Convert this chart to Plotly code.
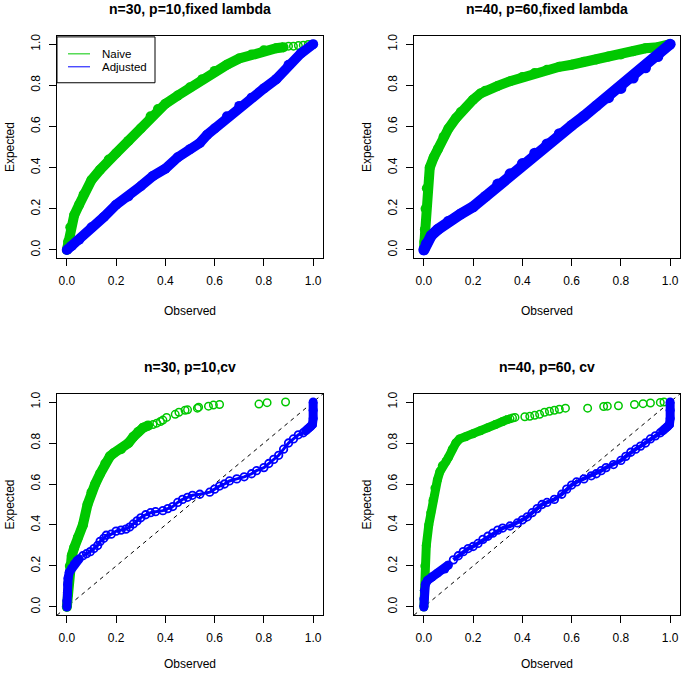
import plotly.graph_objects as go

W, H = 682, 673
GREEN = "#00C800"
BLUE = "#0000FF"

titles = ["n=30, p=10,fixed lambda", "n=40, p=60,fixed lambda",
          "n=30, p=10,cv", "n=40, p=60, cv"]
tick_vals = [0.0, 0.2, 0.4, 0.6, 0.8, 1.0]
tick_text = ["0.0", "0.2", "0.4", "0.6", "0.8", "1.0"]
legend_labels = ["Naive", "Adjusted"]

# ---- panel 1: n=30, p=10, fixed lambda ----
p1_naive_x = [0, 0.005, 0.014, 0.03, 0.05, 0.068, 0.1, 0.135, 0.17, 0.2, 0.25, 0.3, 0.34, 0.37, 0.4, 0.45,
              0.5, 0.55, 0.6, 0.65, 0.7, 0.75, 0.8, 0.85, 0.88]
p1_naive_y = [0, 0.04, 0.11, 0.17, 0.22, 0.27, 0.34, 0.39, 0.44, 0.47, 0.53, 0.59, 0.65, 0.685, 0.71, 0.75,
              0.79, 0.83, 0.87, 0.9, 0.93, 0.95, 0.97, 0.98, 0.985]
p1_naive_sx = [0.9, 0.92, 0.94, 0.96, 0.98, 1.0]
p1_naive_sy = [0.99, 0.99, 0.993, 0.995, 0.998, 1.0]
p1_adj_x = [0, 0.02, 0.05, 0.1, 0.15, 0.2, 0.25, 0.3, 0.35, 0.4, 0.45, 0.5, 0.54, 0.57, 0.6, 0.65,
            0.7, 0.75, 0.8, 0.85, 0.9, 0.95, 1.0]
p1_adj_y = [0, 0.02, 0.05, 0.11, 0.16, 0.22, 0.26, 0.31, 0.36, 0.395, 0.45, 0.49, 0.52, 0.56, 0.59, 0.65,
            0.7, 0.74, 0.785, 0.83, 0.9, 0.955, 1.0]

# ---- panel 2: n=40, p=60, fixed lambda ----
p2_naive_x = [0, 0.002, 0.004, 0.007, 0.012, 0.024, 0.04, 0.057, 0.08, 0.1, 0.13, 0.15, 0.2, 0.23, 0.25,
              0.3, 0.35, 0.4, 0.45, 0.5, 0.55, 0.6, 0.65, 0.7, 0.75, 0.8, 0.85, 0.9, 0.95, 1.0]
p2_naive_y = [0, 0.04, 0.1, 0.2, 0.3, 0.4, 0.45, 0.49, 0.55, 0.59, 0.64, 0.67, 0.73, 0.76, 0.774,
              0.797, 0.82, 0.84, 0.86, 0.875, 0.89, 0.9, 0.915, 0.925, 0.94, 0.95, 0.965, 0.98, 0.985, 1.0]
p2_adj_x = [0, 0.01, 0.03, 0.057, 0.1, 0.15, 0.2, 0.25, 0.3, 0.35, 0.4, 0.45, 0.5, 0.55, 0.6, 0.65,
            0.7, 0.75, 0.8, 0.85, 0.9, 0.95, 1.0]
p2_adj_y = [0, 0.03, 0.07, 0.1, 0.14, 0.175, 0.21, 0.26, 0.32, 0.37, 0.42, 0.47, 0.515, 0.565, 0.605, 0.65,
            0.7, 0.74, 0.785, 0.835, 0.885, 0.94, 1.0]

# ---- panel 3: n=30, p=10, cv ----
p3_naive_x = [0, 0.004, 0.007, 0.012, 0.02, 0.03, 0.045, 0.065, 0.084, 0.1, 0.115, 0.135, 0.156, 0.175,
              0.19, 0.22, 0.25, 0.27, 0.29, 0.31, 0.33]
p3_naive_y = [0, 0.06, 0.12, 0.2, 0.25, 0.29, 0.34, 0.4, 0.5, 0.56, 0.6, 0.65, 0.7, 0.735,
              0.75, 0.77, 0.8, 0.83, 0.855, 0.875, 0.885]
p3_naive_sx = [0.35, 0.365, 0.38, 0.39, 0.405, 0.44, 0.455, 0.48, 0.49, 0.53, 0.535, 0.575, 0.595, 0.62,
               0.78, 0.813, 0.888]
p3_naive_sy = [0.89, 0.897, 0.905, 0.912, 0.925, 0.94, 0.95, 0.96, 0.962, 0.97, 0.975, 0.98, 0.985, 0.988,
               0.99, 0.997, 1.0]
p3_adj_start_x = [0, 0, 0.002, 0.003, 0.005, 0.01, 0.02, 0.03, 0.04, 0.05]
p3_adj_start_y = [0, 0.03, 0.07, 0.11, 0.14, 0.17, 0.19, 0.21, 0.225, 0.235]
p3_adj_mid_x = [0.065, 0.08, 0.095, 0.11, 0.125, 0.135, 0.15, 0.16, 0.18, 0.2, 0.22, 0.24, 0.255, 0.27,
                0.285, 0.3, 0.32, 0.34, 0.36, 0.39, 0.41, 0.43, 0.45, 0.47, 0.49, 0.51, 0.54, 0.58, 0.6,
                0.62, 0.64, 0.66, 0.69, 0.72, 0.75, 0.77, 0.8, 0.82, 0.84, 0.86, 0.88, 0.9, 0.92, 0.94, 0.96]
p3_adj_mid_y = [0.25, 0.26, 0.27, 0.285, 0.3, 0.32, 0.335, 0.35, 0.355, 0.37, 0.375, 0.38, 0.39, 0.405,
                0.42, 0.435, 0.45, 0.46, 0.465, 0.47, 0.48, 0.49, 0.51, 0.525, 0.535, 0.545, 0.55, 0.56, 0.575,
                0.59, 0.6, 0.615, 0.625, 0.635, 0.65, 0.665, 0.68, 0.7, 0.72, 0.74, 0.77, 0.8, 0.82, 0.84, 0.85]
p3_adj_end_x = [0.97, 0.98, 0.99, 0.997, 1.0, 1.0, 1.0]
p3_adj_end_y = [0.86, 0.87, 0.88, 0.89, 0.92, 0.96, 1.0]

# ---- panel 4: n=40, p=60, cv ----
p4_naive_x = [0, 0.002, 0.004, 0.01, 0.02, 0.028, 0.037, 0.045, 0.055, 0.065, 0.075, 0.09, 0.1, 0.115,
              0.13, 0.145, 0.17, 0.2, 0.23, 0.26, 0.29, 0.32, 0.34]
p4_naive_y = [0, 0.08, 0.2, 0.3, 0.4, 0.46, 0.52, 0.58, 0.62, 0.66, 0.69, 0.71, 0.73, 0.77,
              0.8, 0.82, 0.83, 0.845, 0.86, 0.875, 0.89, 0.905, 0.915]
p4_naive_sx = [0.35, 0.36, 0.37, 0.41, 0.43, 0.45, 0.47, 0.49, 0.51, 0.53, 0.55, 0.575, 0.665, 0.73,
               0.745, 0.79, 0.855, 0.89, 0.92, 0.96, 0.975]
p4_naive_sy = [0.918, 0.922, 0.925, 0.928, 0.93, 0.935, 0.94, 0.95, 0.955, 0.96, 0.965, 0.97, 0.97, 0.978,
               0.98, 0.982, 0.988, 0.992, 0.995, 0.998, 1.0]
p4_adj_start_x = [0, 0, 0.002, 0.006, 0.015, 0.033, 0.055, 0.085, 0.1]
p4_adj_start_y = [0, 0.04, 0.08, 0.11, 0.13, 0.146, 0.165, 0.185, 0.205]
p4_adj_mid_x = [0.12, 0.14, 0.16, 0.18, 0.2, 0.22, 0.24, 0.26, 0.28, 0.3, 0.32, 0.35, 0.38, 0.4,
                0.42, 0.44, 0.46, 0.48, 0.5, 0.53, 0.56, 0.58, 0.6, 0.62, 0.65, 0.68, 0.7, 0.72, 0.74,
                0.77, 0.8, 0.82, 0.84, 0.86, 0.88, 0.9, 0.92, 0.94, 0.96]
p4_adj_mid_y = [0.23, 0.25, 0.27, 0.285, 0.295, 0.31, 0.33, 0.345, 0.36, 0.375, 0.385, 0.395, 0.41,
                0.425, 0.44, 0.46, 0.48, 0.5, 0.51, 0.525, 0.55, 0.575, 0.595, 0.61, 0.625, 0.64, 0.65,
                0.665, 0.68, 0.695, 0.715, 0.735, 0.755, 0.77, 0.785, 0.8, 0.82, 0.835, 0.85]
p4_adj_end_x = [0.97, 0.98, 0.99, 0.997, 1.0, 1.0, 1.0]
p4_adj_end_y = [0.86, 0.87, 0.88, 0.89, 0.92, 0.96, 1.0]

# ---- layout geometry (pixels) ----
col_x = [(57, 323), (414, 680)]
row_y = [(34, 257), (393, 615)]


def px(x):
    return x / W


def py(y):
    return 1 - y / H


fig = go.Figure()
MS = 7.5
LW = 10


def dense(ax, xs, ys, color, width=LW):
    fig.add_trace(go.Scatter(x=xs, y=ys, mode="lines+markers", xaxis="x" + ax, yaxis="y" + ax,
                             line=dict(color=color, width=width),
                             marker=dict(symbol="circle", size=width, color=color, line=dict(width=0)),
                             showlegend=False, hoverinfo="skip"))


def chain(ax, xs, ys, color, width):
    fig.add_trace(go.Scatter(x=xs, y=ys, mode="lines+markers", xaxis="x" + ax, yaxis="y" + ax,
                             line=dict(color=color, width=width),
                             marker=dict(symbol="circle-open", size=MS, color=color, line=dict(width=1.8)),
                             showlegend=False, hoverinfo="skip"))


def sparse(ax, xs, ys, color):
    fig.add_trace(go.Scatter(x=xs, y=ys, mode="markers", xaxis="x" + ax, yaxis="y" + ax,
                             marker=dict(symbol="circle-open", size=MS, color=color, line=dict(width=1.5)),
                             showlegend=False, hoverinfo="skip"))


# panel 1
dense("", p1_naive_x, p1_naive_y, GREEN)
sparse("", p1_naive_sx, p1_naive_sy, GREEN)
dense("", p1_adj_x, p1_adj_y, BLUE)
# panel 2
dense("2", p2_naive_x, p2_naive_y, GREEN)
dense("2", p2_adj_x, p2_adj_y, BLUE, width=11)
# panel 3
dense("3", p3_naive_x, p3_naive_y, GREEN)
sparse("3", p3_naive_sx, p3_naive_sy, GREEN)
dense("3", p3_adj_start_x, p3_adj_start_y, BLUE, width=9)
chain("3", p3_adj_mid_x, p3_adj_mid_y, BLUE, width=3)
dense("3", p3_adj_end_x, p3_adj_end_y, BLUE, width=9)
# panel 4
dense("4", p4_naive_x, p4_naive_y, GREEN, width=9)
sparse("4", p4_naive_sx, p4_naive_sy, GREEN)
dense("4", p4_adj_start_x, p4_adj_start_y, BLUE, width=9)
chain("4", p4_adj_mid_x, p4_adj_mid_y, BLUE, width=4)
dense("4", p4_adj_end_x, p4_adj_end_y, BLUE, width=9)

FONT = "Liberation Sans, Arial, sans-serif"
axis_common = dict(range=[-0.04, 1.04], showgrid=False, zeroline=False, showline=True, mirror=True,
                   linecolor="black", linewidth=1, ticks="outside", ticklen=7, tickwidth=1,
                   tickcolor="black", tickvals=tick_vals, ticktext=tick_text, fixedrange=True,
                   tickfont=dict(family=FONT, size=12, color="black"))

layout = dict(width=W, height=H, margin=dict(l=0, r=0, t=0, b=0), paper_bgcolor="white",
              plot_bgcolor="white", showlegend=False)
annotations = []
shapes = []
names = ["", "2", "3", "4"]
for i, nm in enumerate(names):
    r, c = divmod(i, 2)
    x0, x1 = col_x[c]
    y0, y1 = row_y[r]
    layout["xaxis" + nm] = dict(axis_common, domain=[px(x0), px(x1)], anchor="y" + nm, ticklabelstandoff=4)
    layout["yaxis" + nm] = dict(axis_common, domain=[py(y1), py(y0)], anchor="x" + nm, tickangle=-90,
                                ticklabelstandoff=4)
    cx = (x0 + x1) / 2
    annotations.append(dict(text="<b>" + titles[i] + "</b>", x=px(cx), y=py(y0 - 27), xref="paper",
                            yref="paper", showarrow=False, xanchor="center", yanchor="middle",
                            font=dict(family=FONT, size=14, color="black")))
    annotations.append(dict(text="Observed", x=px(cx), y=py(min(y1 + 53, 664)), xref="paper", yref="paper",
                            showarrow=False, xanchor="center", yanchor="middle",
                            font=dict(family=FONT, size=12, color="black")))
    annotations.append(dict(text="Expected", x=px(x0 - 47), y=py((y0 + y1) / 2), xref="paper",
                            yref="paper", showarrow=False, xanchor="center", yanchor="middle",
                            textangle=-90, font=dict(family=FONT, size=12, color="black")))
    if r == 1:
        shapes.append(dict(type="line", xref="x" + nm, yref="y" + nm, x0=-0.04, y0=-0.04, x1=1.04, y1=1.04,
                           line=dict(color="black", width=1, dash="4px,4px"), layer="below"))

# legend in first panel
shapes.append(dict(type="rect", xref="paper", yref="paper", x0=px(57), x1=px(155), y0=py(81), y1=py(35),
                   line=dict(color="black", width=1), fillcolor="white", layer="above"))
for k, (lab, colr, yy) in enumerate(zip(legend_labels, [GREEN, BLUE], [52, 65])):
    shapes.append(dict(type="line", xref="paper", yref="paper", x0=px(68), x1=px(90), y0=py(yy), y1=py(yy),
                       line=dict(color=colr, width=1), layer="above"))
    annotations.append(dict(text=lab, x=px(100), y=py(yy), xref="paper", yref="paper", showarrow=False,
                            xanchor="left", yanchor="middle", font=dict(family=FONT, size=11.5, color="black")))

layout["annotations"] = annotations
layout["shapes"] = shapes
fig.update_layout(**layout)
fig.write_html("out.html", config={"displayModeBar": False, "staticPlot": True})

# remove the default page margin so the figure fills the window exactly
with open("out.html", "r", encoding="utf-8") as f:
    html = f.read()
html = html.replace("<head>", "<head><style>html,body{margin:0;padding:0;overflow:hidden;}</style>", 1)
with open("out.html", "w", encoding="utf-8") as f:
    f.write(html)
